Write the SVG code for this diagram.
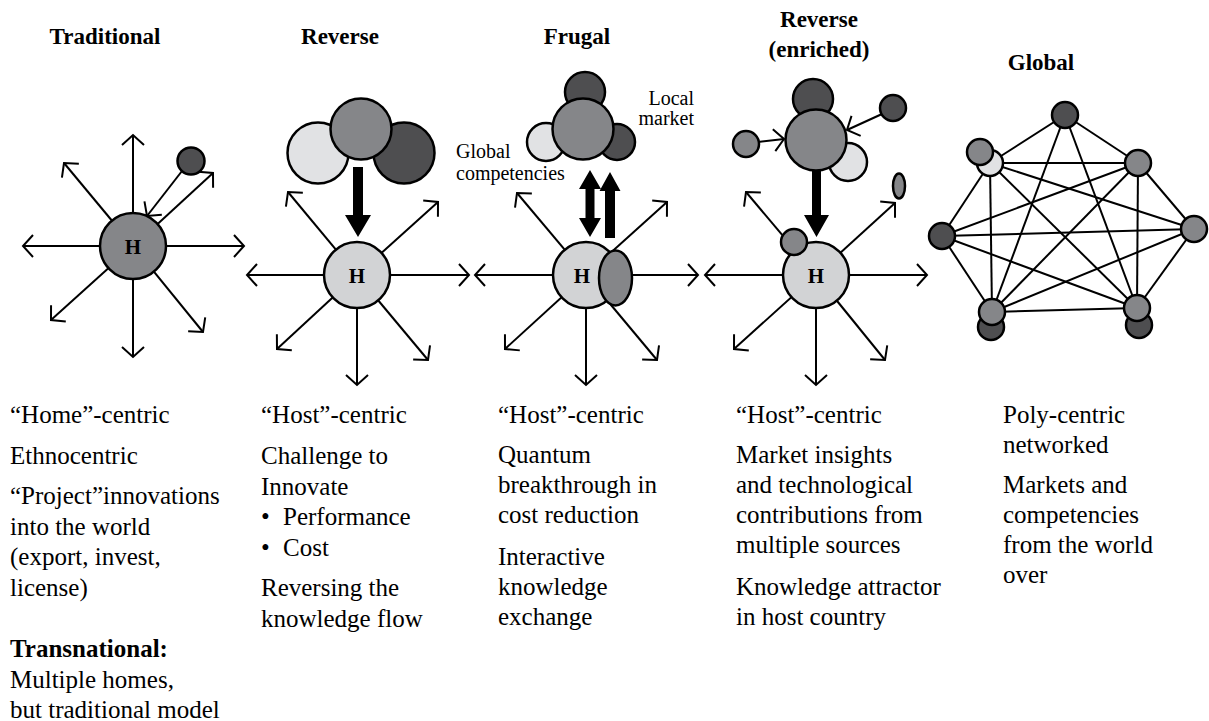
<svg xmlns="http://www.w3.org/2000/svg" width="1209" height="721" viewBox="0 0 1209 721">
<style>
.t{font-family:"Liberation Serif","Times New Roman",serif;font-size:25px;fill:#000}
.h{font-family:"Liberation Serif","Times New Roman",serif;font-size:23px;font-weight:bold;fill:#000;text-anchor:middle}
.s{font-family:"Liberation Serif","Times New Roman",serif;font-size:20px;fill:#000}
.hl{font-family:"Liberation Serif","Times New Roman",serif;font-size:21px;font-weight:bold;fill:#000;text-anchor:middle}
.c{stroke:#000;stroke-width:2.5}
.lt{fill:#e1e2e4}.hf{fill:#d2d3d5}.md{fill:#858689}.dk{fill:#4e4e50}
.a{stroke:#000;stroke-width:2;fill:none;marker-end:url(#ah)}
.e{stroke:#000;stroke-width:2;fill:none}
.big{fill:#000}
</style>
<defs>
<marker id="ah" viewBox="-13 -13 15 26" markerWidth="15" markerHeight="26" refX="0" refY="0" orient="auto" markerUnits="userSpaceOnUse">
<path d="M-10,-11 L0,0 L-10,11" fill="none" stroke="#000" stroke-width="2"/>
</marker>
</defs>

<!-- headers -->
<g id="headers">
<text class="h" x="105" y="44">Traditional</text>
<text class="h" x="340" y="44">Reverse</text>
<text class="h" x="577" y="44">Frugal</text>
<text class="h" x="819" y="27">Reverse</text>
<text class="h" x="819" y="57">(enriched)</text>
<text class="h" x="1041" y="70">Global</text>
</g>

<!-- connectors -->
<g id="connectors">
<!-- traditional -->
<line class="a" x1="133" y1="246" x2="133" y2="135"/>
<line class="a" x1="133" y1="246" x2="23" y2="246"/>
<line class="a" x1="133" y1="246" x2="244" y2="246"/>
<line class="a" x1="133" y1="246" x2="64" y2="163"/>
<line class="a" x1="133" y1="246" x2="51" y2="320"/>
<line class="a" x1="133" y1="246" x2="133" y2="357"/>
<line class="a" x1="133" y1="246" x2="203" y2="332"/>
<line class="a" x1="182" y1="171" x2="147" y2="216"/>
<line class="a" x1="150" y1="231" x2="213" y2="173"/>
<!-- reverse -->
<line class="a" x1="357" y1="275" x2="288" y2="192"/>
<line class="a" x1="357" y1="275" x2="438" y2="202"/>
<line class="a" x1="357" y1="275" x2="247" y2="275"/>
<line class="a" x1="357" y1="275" x2="469" y2="275"/>
<line class="a" x1="357" y1="275" x2="277" y2="349"/>
<line class="a" x1="357" y1="275" x2="357" y2="385"/>
<line class="a" x1="357" y1="275" x2="428" y2="360"/>
<polygon class="big" points="353,167 363,167 363,215 371,215 358,237 345,215 353,215"/>
<!-- frugal -->
<line class="a" x1="586" y1="275" x2="517" y2="193"/>
<line class="a" x1="586" y1="275" x2="667" y2="202"/>
<line class="a" x1="586" y1="275" x2="475" y2="275"/>
<line class="a" x1="586" y1="275" x2="698" y2="275"/>
<line class="a" x1="586" y1="275" x2="505" y2="349"/>
<line class="a" x1="586" y1="275" x2="586" y2="385"/>
<line class="a" x1="586" y1="275" x2="657" y2="360"/>
<polygon class="big" points="590,170 601,189 594.5,189 594.5,218 601,218 590,237 579,218 585.5,218 585.5,189 579,189"/>
<polygon class="big" points="610,172 620.5,191 615,191 615,238 605,238 605,191 599.5,191"/>
<!-- reverse enriched -->
<line class="a" x1="816" y1="275" x2="746" y2="192"/>
<line class="a" x1="816" y1="275" x2="895" y2="203"/>
<line class="a" x1="816" y1="275" x2="705" y2="275"/>
<line class="a" x1="816" y1="275" x2="927" y2="275"/>
<line class="a" x1="816" y1="275" x2="734" y2="349"/>
<line class="a" x1="816" y1="275" x2="816" y2="385"/>
<line class="a" x1="816" y1="275" x2="885" y2="360"/>
<polygon class="big" points="812,170 821,170 821,215 829,215 816.5,237 804,215 812,215"/>
<line class="a" x1="758" y1="142" x2="784" y2="139"/>
<line class="a" x1="882" y1="114" x2="847" y2="130"/>
<!-- global network -->
<g class="e">
<line x1="1065" y1="115" x2="990" y2="163"/>
<line x1="1065" y1="115" x2="1138" y2="163"/>
<line x1="1065" y1="115" x2="992" y2="312"/>
<line x1="1065" y1="115" x2="1137" y2="308"/>
<line x1="990" y1="163" x2="1138" y2="163"/>
<line x1="990" y1="163" x2="942" y2="236"/>
<line x1="990" y1="163" x2="992" y2="312"/>
<line x1="990" y1="163" x2="1194" y2="229"/>
<line x1="990" y1="163" x2="1137" y2="308"/>
<line x1="1138" y1="163" x2="942" y2="236"/>
<line x1="1138" y1="163" x2="1194" y2="229"/>
<line x1="1138" y1="163" x2="992" y2="312"/>
<line x1="1138" y1="163" x2="1137" y2="308"/>
<line x1="942" y1="236" x2="1194" y2="229"/>
<line x1="942" y1="236" x2="992" y2="312"/>
<line x1="942" y1="236" x2="1137" y2="308"/>
<line x1="1194" y1="229" x2="992" y2="312"/>
<line x1="1194" y1="229" x2="1137" y2="308"/>
<line x1="992" y1="312" x2="1137" y2="308"/>
</g>
</g>

<!-- nodes -->
<g id="trad-home">
<circle class="c md" cx="133" cy="246" r="33"/>
<text class="hl" x="133" y="254">H</text>
</g>
<g id="trad-small">
<circle class="c dk" cx="191" cy="161" r="13.5"/>
</g>

<g id="rev-cluster">
<circle class="c lt" cx="318" cy="153" r="30.5"/>
<circle class="c dk" cx="404" cy="153" r="30.5"/>
<circle class="c md" cx="361" cy="129" r="30.5"/>
</g>
<g id="rev-host">
<circle class="c hf" cx="357" cy="275" r="33"/>
<text class="hl" x="357" y="283">H</text>
</g>

<g id="frugal-cluster">
<circle class="c dk" cx="585" cy="92" r="20"/>
<circle class="c lt" cx="546" cy="142" r="19"/>
<circle class="c dk" cx="617" cy="142" r="18"/>
<circle class="c md" cx="583" cy="129" r="30.5"/>
</g>
<g id="frugal-labels">
<text class="s" x="694" y="105" text-anchor="end">Local</text>
<text class="s" x="694" y="125" text-anchor="end">market</text>
<text class="s" x="456" y="158">Global</text>
<text class="s" x="456" y="180">competencies</text>
</g>
<g id="frugal-host">
<circle class="c hf" cx="586" cy="275" r="33"/>
<text class="hl" x="582" y="283">H</text>
<ellipse class="c md" cx="615.5" cy="278" rx="16.5" ry="27.5"/>
</g>

<g id="enr-cluster">
<circle class="c dk" cx="813" cy="99" r="20"/>
<circle class="c lt" cx="848" cy="162" r="19"/>
<circle class="c md" cx="816" cy="140" r="30.5"/>
</g>
<g id="enr-left"><circle class="c md" cx="746" cy="144" r="13"/></g>
<g id="enr-right"><circle class="c dk" cx="893" cy="108" r="13"/></g>
<g id="enr-ellipse"><ellipse class="c md" cx="899" cy="186" rx="6" ry="12.5"/></g>
<g id="enr-host">
<circle class="c hf" cx="816" cy="275" r="33"/>
<text class="hl" x="816" y="283">H</text>
<circle class="c md" cx="794" cy="242" r="13"/>
</g>

<g id="net-top"><circle class="c dk" cx="1065" cy="115" r="13"/></g>
<g id="net-ul"><circle class="c lt" cx="990" cy="163" r="13"/><circle class="c md" cx="980" cy="152" r="13"/></g>
<g id="net-ur"><circle class="c md" cx="1138" cy="163" r="13"/></g>
<g id="net-r"><circle class="c md" cx="1194" cy="229" r="13"/></g>
<g id="net-l"><circle class="c dk" cx="942" cy="236" r="13"/></g>
<g id="net-bl"><circle class="c dk" cx="991" cy="327" r="13"/><circle class="c md" cx="992" cy="312" r="13"/></g>
<g id="net-br"><circle class="c dk" cx="1139" cy="325" r="13"/><circle class="c md" cx="1137" cy="308" r="13"/></g>

<!-- descriptions -->
<g id="desc-traditional">
<text class="t" x="10" y="423">“Home”-centric</text>
<text class="t" x="10" y="464">Ethnocentric</text>
<text class="t" x="10" y="504">“Project”innovations</text>
<text class="t" x="10" y="534.5">into the world</text>
<text class="t" x="10" y="565">(export, invest,</text>
<text class="t" x="10" y="595.5">license)</text>
<text class="t" x="10" y="657" font-weight="bold">Transnational:</text>
<text class="t" x="10" y="687.5">Multiple homes,</text>
<text class="t" x="10" y="718">but traditional model</text>
</g>
<g id="desc-reverse">
<text class="t" x="261" y="423">“Host”-centric</text>
<text class="t" x="261" y="464">Challenge to</text>
<text class="t" x="261" y="494.5">Innovate</text>
<text class="t" x="261" y="525">•</text><text class="t" x="283" y="525">Performance</text>
<text class="t" x="261" y="555.5">•</text><text class="t" x="283" y="555.5">Cost</text>
<text class="t" x="261" y="596">Reversing the</text>
<text class="t" x="261" y="626.5">knowledge flow</text>
</g>
<g id="desc-frugal">
<text class="t" x="498" y="423">“Host”-centric</text>
<text class="t" x="498" y="463">Quantum</text>
<text class="t" x="498" y="493">breakthrough in</text>
<text class="t" x="498" y="523">cost reduction</text>
<text class="t" x="498" y="565">Interactive</text>
<text class="t" x="498" y="595">knowledge</text>
<text class="t" x="498" y="625">exchange</text>
</g>
<g id="desc-enriched">
<text class="t" x="736" y="423">“Host”-centric</text>
<text class="t" x="736" y="463">Market insights</text>
<text class="t" x="736" y="493">and technological</text>
<text class="t" x="736" y="523">contributions from</text>
<text class="t" x="736" y="553">multiple sources</text>
<text class="t" x="736" y="595">Knowledge attractor</text>
<text class="t" x="736" y="625">in host country</text>
</g>
<g id="desc-global">
<text class="t" x="1003" y="423">Poly-centric</text>
<text class="t" x="1003" y="453">networked</text>
<text class="t" x="1003" y="493">Markets and</text>
<text class="t" x="1003" y="523">competencies</text>
<text class="t" x="1003" y="553">from the world</text>
<text class="t" x="1003" y="583">over</text>
</g>
</svg>
